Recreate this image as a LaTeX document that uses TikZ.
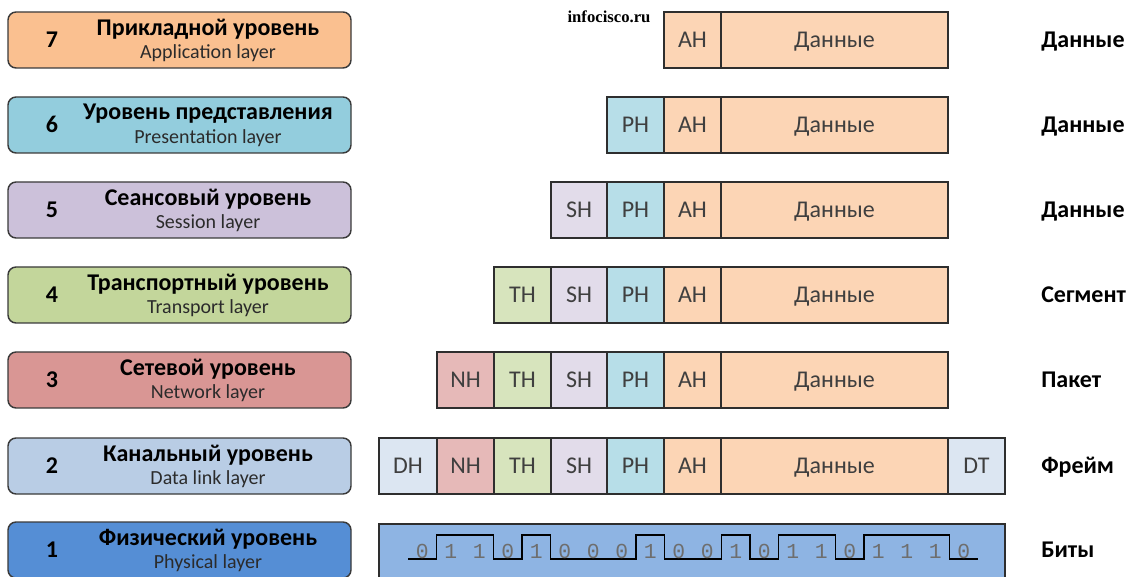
\documentclass[tikz,border=0pt]{standalone}
\usepackage{fontspec}
\setmainfont{Carlito}
\newfontfamily\monof{Liberation Mono}
\newfontfamily\serf{Liberation Serif}
\definecolor{lineC}{HTML}{3A3A3A}
\definecolor{cellLine}{HTML}{2E2E2E}
\definecolor{L7}{HTML}{FAC090}
\definecolor{L6}{HTML}{93CDDD}
\definecolor{L5}{HTML}{CCC1DA}
\definecolor{L4}{HTML}{C3D69B}
\definecolor{L3}{HTML}{D99694}
\definecolor{L2}{HTML}{B9CDE5}
\definecolor{L1}{HTML}{558ED5}
\definecolor{cA}{HTML}{FCD5B5}
\definecolor{cP}{HTML}{B7DEE8}
\definecolor{cS}{HTML}{E2DCEA}
\definecolor{cT}{HTML}{D7E4BD}
\definecolor{cN}{HTML}{E6B9B8}
\definecolor{cD}{HTML}{DCE6F2}
\definecolor{cBits}{HTML}{8EB4E3}
\definecolor{txtC}{HTML}{3F3F3F}
\definecolor{subC}{HTML}{2B2B2B}
\definecolor{digC}{HTML}{6E6E6E}
\tikzset{
  layerbox/.style={draw=lineC, line width=1.1pt, rounded corners=6pt, minimum width=343*0.75pt, minimum height=56*0.75pt, inner sep=0pt},
  cellbox/.style={draw=cellLine, line width=1.1pt, minimum height=56*0.75pt, inner sep=0pt, text=txtC, font=\fontsize{18}{20}\selectfont, text height=11.6pt, text depth=0pt},
  numtxt/.style={font=\bfseries\fontsize{18}{20}\selectfont, text=black, text height=11.6pt, text depth=0pt},
  titletxt/.style={font=\bfseries\fontsize{18}{20}\selectfont, text=black, inner sep=0pt},
  subtxt/.style={font=\fontsize{15}{17}\selectfont, text=subC, inner sep=0pt},
  rlabel/.style={anchor=west, font=\bfseries\fontsize{18}{20}\selectfont, text=black, inner sep=0pt, text height=11.6pt, text depth=0pt},
  digit/.style={anchor=base, font=\monof\fontsize{16}{18}\selectfont, text=digC, inner sep=0pt},
  signal/.style={draw=black, line width=1.1pt},
}
\newcommand\cellnode[6]{%
  \node[cellbox, fill=#5, minimum width={(#3-#2)*0.75pt}] (#1) at ({(#2+#3)/2},#4) {#6};}
\newcommand\layernode[6]{%
  \node[layerbox, fill=#3] (L#1) at (179.5,#2) {};
  \node[numtxt] (N#1) at (52,#2) {#1};
  \node[titletxt] (T#1) at (208,#2-11) {#4};
  \node[subtxt] (S#1) at (208,#2+13) {#5};
  \node[rlabel] (R#1) at (1041,#2) {#6};}
\begin{document}
\begin{tikzpicture}[x=0.75pt,y=-0.75pt]
\useasboundingbox (0,0) rectangle (1136,577);
% layers
\layernode{7}{40}{L7}{Прикладной уровень}{Application layer}{Данные}
\layernode{6}{125}{L6}{Уровень представления}{Presentation layer}{Данные}
\layernode{5}{210}{L5}{Сеансовый уровень}{Session layer}{Данные}
\layernode{4}{295}{L4}{Транспортный уровень}{Transport layer}{Сегмент}
\layernode{3}{380}{L3}{Сетевой уровень}{Network layer}{Пакет}
\layernode{2}{466}{L2}{Канальный уровень}{Data link layer}{Фрейм}
\layernode{1}{550}{L1}{Физический уровень}{Physical layer}{Биты}
% watermark
\node[font=\serf\bfseries\fontsize{12.5}{14}\selectfont, inner sep=0pt] (wm) at (609,17) {infocisco.ru};
% row 7
\cellnode{a7}{664}{721}{40}{cA}{AH}
\cellnode{d7}{721}{948}{40}{cA}{Данные}
% row 6
\cellnode{p6}{607}{664}{125}{cP}{PH}
\cellnode{a6}{664}{721}{125}{cA}{AH}
\cellnode{d6}{721}{948}{125}{cA}{Данные}
% row 5
\cellnode{s5}{551}{607}{210}{cS}{SH}
\cellnode{p5}{607}{664}{210}{cP}{PH}
\cellnode{a5}{664}{721}{210}{cA}{AH}
\cellnode{d5}{721}{948}{210}{cA}{Данные}
% row 4
\cellnode{t4}{494}{551}{295}{cT}{TH}
\cellnode{s4}{551}{607}{295}{cS}{SH}
\cellnode{p4}{607}{664}{295}{cP}{PH}
\cellnode{a4}{664}{721}{295}{cA}{AH}
\cellnode{d4}{721}{948}{295}{cA}{Данные}
% row 3
\cellnode{n3}{437}{494}{380}{cN}{NH}
\cellnode{t3}{494}{551}{380}{cT}{TH}
\cellnode{s3}{551}{607}{380}{cS}{SH}
\cellnode{p3}{607}{664}{380}{cP}{PH}
\cellnode{a3}{664}{721}{380}{cA}{AH}
\cellnode{d3}{721}{948}{380}{cA}{Данные}
% row 2
\cellnode{h2}{379}{437}{466}{cD}{DH}
\cellnode{n2}{437}{494}{466}{cN}{NH}
\cellnode{t2}{494}{551}{466}{cT}{TH}
\cellnode{s2}{551}{607}{466}{cS}{SH}
\cellnode{p2}{607}{664}{466}{cP}{PH}
\cellnode{a2}{664}{721}{466}{cA}{AH}
\cellnode{d2}{721}{948}{466}{cA}{Данные}
\cellnode{e2}{948}{1005}{466}{cD}{DT}
% row 1 bits
\cellnode{bits}{379}{1005}{552}{cBits}{}
\draw[signal] (408,559) -- (436.5,559) -- (436.5,535) -- (493.5,535) -- (493.5,559)
  -- (522,559) -- (522,535) -- (550.5,535) -- (550.5,559) -- (636,559) -- (636,535)
  -- (664.5,535) -- (664.5,559) -- (721.5,559) -- (721.5,535) -- (750,535) -- (750,559)
  -- (778.5,559) -- (778.5,535) -- (835.5,535) -- (835.5,559) -- (864,559) -- (864,535)
  -- (949.5,535) -- (949.5,559) -- (978,559);
\foreach \b [count=\i from 0] in {0,1,1,0,1,0,0,0,1,0,0,1,0,1,1,0,1,1,1,0}
  \node[digit] (bit\i) at ({422.25+28.5*\i},558) {\b};
\end{tikzpicture}
\end{document}
